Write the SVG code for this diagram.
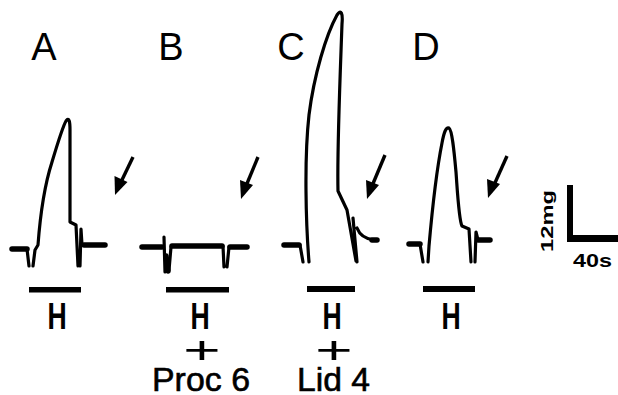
<svg xmlns="http://www.w3.org/2000/svg" width="618" height="395" viewBox="0 0 618 395">
<defs>
<style>
.lbl{font-family:"Liberation Sans",Arial,sans-serif;font-size:38px;fill:#000;text-anchor:middle}
.h{font-family:"Liberation Sans",Arial,sans-serif;font-size:37px;font-weight:bold;fill:#000;text-anchor:middle}
.sub{font-family:"Liberation Sans",Arial,sans-serif;font-size:33px;fill:#000;stroke:#000;stroke-width:0.6}
.plus{font-family:"Liberation Sans",Arial,sans-serif;font-size:64px;fill:#000;text-anchor:middle}
.sc{font-family:"Liberation Sans",Arial,sans-serif;font-weight:bold;fill:#000}
.tr{fill:none;stroke:#000;stroke-width:3.2;stroke-linecap:round;stroke-linejoin:round}
.base{fill:none;stroke:#000;stroke-width:5.5;stroke-linecap:round}
.bar{fill:#000}
.arr{stroke:#000;stroke-width:3.4;fill:none}
.ah{fill:#000}
</style>
</defs>
<g id="panel-A">
<text class="lbl" x="44" y="60">A</text>
<path class="base" d="M12,249 H27"/>
<path class="tr" d="M27,249 L29,266 M33,266 L35,250 L38,245 C40,218 43,190 52,162 C58,142 63,126 66,121 C69,117 70,121 70,130 L70,222 L76,225 L78,266 M80,266 L81,229 L82,245"/>
<path class="base" d="M84,245 H105"/>
<rect class="bar" x="29" y="287" width="52" height="5.5"/>
<text class="h" transform="translate(57,329) scale(0.72,1)">H</text>
</g>
<g id="panel-B">
<text class="lbl" x="171" y="60">B</text>
<path class="base" d="M142,247 H162"/>
<path class="tr" d="M164,237 L165,272"/>
<path class="tr" d="M166,256 L168,271" style="stroke-width:5.5"/>
<path class="tr" d="M169,270 L171,247"/>
<path class="base" d="M172,246 H222"/>
<path class="tr" d="M223,246 L224,267 M227,267 L229,247"/>
<path class="base" d="M230,247 H247"/>
<rect class="bar" x="166" y="287" width="63" height="5.5"/>
<text class="h" transform="translate(200,329) scale(0.72,1)">H</text>
<text class="plus" transform="translate(202,363) scale(1,0.62)">+</text>
<text class="sub" x="152" y="391" textLength="98" lengthAdjust="spacingAndGlyphs">Proc 6</text>
</g>
<g id="panel-C">
<text class="lbl" x="291" y="60">C</text>
<path class="base" d="M284,245 H299"/>
<path class="tr" d="M300,245 L303,262 M309,262 C306,225 304,160 309,115 C314,75 326,35 337,15 C341,9 343,13 342,24 C340,80 337,150 338,191 L347,210 L356,261 M353,218 L357,262 M357,228 C360,236 366,239 374,240"/>
<path class="base" d="M372,240 H377"/>
<rect class="bar" x="307" y="286" width="48" height="6"/>
<text class="h" transform="translate(332,329) scale(0.72,1)">H</text>
<text class="plus" transform="translate(334,363) scale(1,0.62)">+</text>
<text class="sub" x="297" y="391" textLength="73" lengthAdjust="spacingAndGlyphs">Lid 4</text>
</g>
<g id="panel-D">
<text class="lbl" x="426" y="60">D</text>
<path class="base" d="M409,244 H420"/>
<path class="tr" d="M420,244 L423,262 M428,262 L429,246 C432,212 437,168 442,143 C444,132 446,127 449,128 C452,130 454,150 456,172 C458,200 459,220 462,226 L469,229 L471,262 M475,262 L476,232 L478,240"/>
<path class="base" d="M478,240 H490"/>
<rect class="bar" x="423" y="286" width="52" height="6"/>
<text class="h" transform="translate(451,329) scale(0.72,1)">H</text>
</g>
<g id="connectors">
<path class="arr" d="M133,157 L121,182"/>
<path class="ah" d="M115,195 L114.5,176 L127.5,182 Z"/>
<path class="arr" d="M258,157 L246,186"/>
<path class="ah" d="M241,199 L240,180 L253,185 Z"/>
<path class="arr" d="M385,155 L372,186"/>
<path class="ah" d="M367,199 L366,180 L379,185 Z"/>
<path class="arr" d="M507,156 L494,185"/>
<path class="ah" d="M488,198 L487,179 L500,184 Z"/>
</g>
<g id="scale-bar">
<path d="M567,185 H573 V235 H618 V242 H567 Z" fill="#000"/>
<text class="sc" font-size="17" transform="translate(553,252) rotate(-90)" textLength="62" lengthAdjust="spacingAndGlyphs">12mg</text>
<text class="sc" font-size="19" x="573" y="267" textLength="39" lengthAdjust="spacingAndGlyphs">40s</text>
</g>
</svg>
